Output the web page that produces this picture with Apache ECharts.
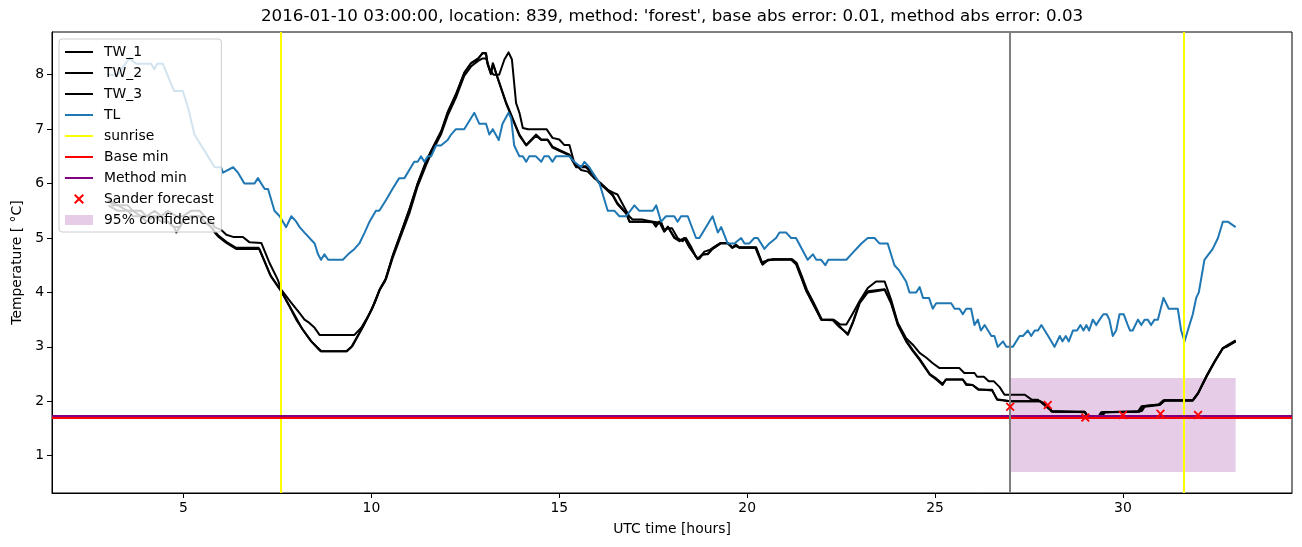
<!DOCTYPE html>
<html><head><meta charset="utf-8">
<script src="https://cdn.jsdelivr.net/npm/echarts@6/dist/echarts.min.js"></script>
<style>html,body{margin:0;padding:0;background:#fff}#c{width:1302px;height:547px}</style>
</head><body><div id="c"></div><script>
// ---- data (hours, °C) ----
const tw1 = [[3.0,5.6],[3.25,5.5],[3.52,5.5],[3.65,5.4],[3.87,5.4],[4.01,5.3],[4.23,5.4],[4.41,5.3],[4.58,5.3],[4.75,5.2],[4.81,5.1],[4.9,5.2],[4.98,5.3],[5.2,5.4],[5.43,5.4],[5.56,5.3],[5.74,5.2],[5.83,5.1],[5.92,5.03],[6.14,4.91],[6.4,4.8],[7.02,4.8],[7.33,4.29],[7.6,4.02],[7.82,3.74],[8.0,3.5],[8.18,3.31],[8.4,3.1],[8.58,2.98],[8.67,2.92],[9.33,2.92],[9.47,3.0],[9.78,3.38],[10.0,3.68],[10.22,4.05],[10.36,4.2],[10.56,4.66],[10.79,5.1],[11.01,5.52],[11.23,6.0],[11.45,6.38],[11.59,6.59],[11.85,6.93],[12.03,7.3],[12.25,7.63],[12.47,8.03],[12.65,8.21],[12.83,8.28],[12.96,8.4],[13.05,8.4],[13.09,8.2],[13.18,8.03],[13.23,8.21],[13.36,7.94],[13.58,7.5],[13.76,7.2],[13.94,6.9],[14.12,6.71],[14.38,6.9],[14.52,6.81],[14.69,6.81],[14.82,6.68],[15.0,6.62],[15.27,6.53],[15.45,6.32],[15.71,6.32],[15.89,6.19],[16.07,6.01],[16.24,5.92],[16.42,5.8],[16.55,5.64],[16.78,5.46],[16.87,5.3],[17.18,5.3],[17.49,5.29],[17.6,5.25],[17.71,5.29],[17.8,5.12],[17.89,5.21],[18.06,5.0],[18.2,4.94],[18.33,5.0],[18.46,4.85],[18.68,4.61],[18.81,4.69],[18.95,4.71],[19.08,4.8],[19.3,4.91],[19.48,4.91],[19.61,4.82],[19.7,4.88],[19.79,4.82],[20.24,4.82],[20.41,4.51],[20.55,4.6],[20.72,4.61],[21.17,4.61],[21.3,4.54],[21.44,4.29],[21.57,4.05],[21.75,3.81],[21.97,3.5],[22.28,3.5],[22.46,3.38],[22.68,3.22],[22.82,3.45],[23.0,3.81],[23.21,4.0],[23.43,4.02],[23.66,4.05],[23.83,3.8],[24.01,3.4],[24.23,3.1],[24.41,2.92],[24.59,2.76],[24.86,2.49],[25.03,2.4],[25.2,2.3],[25.29,2.4],[25.74,2.4],[25.83,2.3],[26.0,2.3],[26.16,2.21],[26.52,2.21],[26.65,2.03],[27.0,2.0],[27.8,2.0],[28.01,1.91],[28.1,1.81],[28.98,1.81],[29.07,1.72],[29.4,1.72],[29.47,1.8],[30.45,1.81],[30.53,1.91],[30.98,1.94],[31.11,2.02],[31.86,2.02],[32.0,2.15],[32.22,2.46],[32.44,2.73],[32.66,2.98],[32.75,3.0],[33.0,3.1]];
const tw2 = [[3.0,5.7],[3.25,5.6],[3.52,5.5],[3.65,5.5],[3.87,5.4],[4.01,5.4],[4.23,5.4],[4.41,5.4],[4.58,5.3],[4.75,5.2],[4.81,5.2],[4.9,5.2],[4.98,5.3],[5.2,5.4],[5.43,5.4],[5.56,5.3],[5.74,5.2],[5.83,5.12],[5.92,5.05],[6.14,4.93],[6.4,4.82],[7.0,4.82],[7.3,4.33],[7.58,4.05],[7.8,3.78],[8.0,3.53],[8.16,3.33],[8.38,3.12],[8.56,2.98],[8.65,2.92],[9.35,2.92],[9.5,3.02],[9.8,3.4],[10.02,3.7],[10.24,4.08],[10.38,4.25],[10.58,4.7],[10.8,5.12],[11.02,5.55],[11.24,6.02],[11.46,6.42],[11.6,6.62],[11.86,6.97],[12.04,7.33],[12.26,7.66],[12.48,8.05],[12.66,8.22],[12.84,8.3],[12.97,8.4],[13.05,8.38],[13.1,8.18],[13.18,8.01],[13.24,8.2],[13.37,7.92],[13.58,7.48],[13.76,7.18],[13.94,6.88],[14.12,6.7],[14.38,6.88],[14.52,6.8],[14.69,6.8],[14.82,6.66],[15.0,6.6],[15.27,6.52],[15.45,6.3],[15.71,6.3],[15.89,6.18],[16.07,6.0],[16.24,5.9],[16.42,5.78],[16.55,5.62],[16.78,5.45],[16.87,5.3],[17.18,5.3],[17.49,5.3],[17.71,5.28],[17.8,5.14],[17.89,5.2],[18.06,5.02],[18.2,4.95],[18.33,5.0],[18.46,4.83],[18.68,4.62],[18.81,4.7],[18.95,4.7],[19.08,4.8],[19.3,4.9],[19.48,4.9],[19.61,4.83],[19.7,4.87],[19.79,4.83],[20.24,4.83],[20.41,4.52],[20.55,4.59],[20.72,4.6],[21.17,4.6],[21.3,4.52],[21.44,4.27],[21.57,4.03],[21.75,3.79],[21.97,3.5],[22.28,3.49],[22.46,3.36],[22.68,3.24],[22.82,3.47],[23.0,3.83],[23.21,4.02],[23.43,4.04],[23.66,4.06],[23.83,3.82],[24.01,3.42],[24.23,3.12],[24.41,2.94],[24.59,2.78],[24.86,2.5],[25.03,2.42],[25.2,2.32],[25.29,2.4],[25.74,2.4],[25.83,2.32],[26.0,2.3],[26.16,2.22],[26.52,2.2],[26.65,2.04],[27.0,2.0],[27.8,2.0],[28.01,1.92],[28.1,1.82],[28.98,1.8],[29.07,1.72],[29.45,1.72],[29.52,1.8],[30.5,1.82],[30.58,1.9],[30.98,1.93],[31.11,2.01],[31.86,2.01],[32.0,2.14],[32.22,2.44],[32.44,2.72],[32.66,2.97],[32.75,3.02],[33.0,3.12]];
const tw3 = [[3.0,5.7],[3.12,5.6],[3.52,5.6],[3.65,5.5],[3.87,5.5],[4.01,5.4],[4.23,5.5],[4.41,5.4],[4.58,5.5],[4.81,5.4],[4.98,5.4],[5.2,5.5],[5.43,5.5],[5.56,5.4],[5.74,5.3],[5.83,5.2],[6.0,5.15],[6.14,5.06],[6.32,5.02],[6.58,5.02],[6.76,4.92],[7.07,4.91],[7.29,4.54],[7.51,4.23],[7.6,4.05],[7.87,3.81],[8.09,3.62],[8.22,3.5],[8.35,3.44],[8.49,3.35],[8.62,3.22],[9.55,3.22],[9.73,3.35],[9.91,3.56],[10.09,3.81],[10.22,4.05],[10.39,4.25],[10.56,4.62],[10.79,5.05],[11.01,5.45],[11.23,5.95],[11.45,6.33],[11.59,6.55],[11.85,6.9],[12.03,7.25],[12.25,7.58],[12.47,7.98],[12.65,8.15],[12.83,8.25],[12.96,8.3],[13.05,8.3],[13.15,8.1],[13.25,8.0],[13.4,8.0],[13.54,8.28],[13.65,8.41],[13.74,8.28],[13.85,7.48],[13.94,7.3],[14.03,7.02],[14.17,7.0],[14.66,7.0],[14.82,6.84],[15.0,6.81],[15.13,6.71],[15.27,6.71],[15.4,6.38],[15.58,6.25],[15.76,6.22],[15.93,6.1],[16.1,6.01],[16.28,5.89],[16.45,5.83],[16.55,5.8],[16.72,5.58],[16.86,5.4],[16.95,5.34],[17.2,5.34],[17.48,5.3],[17.57,5.21],[17.66,5.3],[17.79,5.12],[17.88,5.18],[18.0,5.18],[18.15,5.0],[18.28,4.94],[18.37,5.0],[18.5,4.85],[18.64,4.65],[18.73,4.62],[18.86,4.75],[19.0,4.78],[19.15,4.85],[19.3,4.91],[19.48,4.91],[19.6,4.82],[19.7,4.85],[19.8,4.82],[20.22,4.82],[20.38,4.55],[20.5,4.58],[20.7,4.61],[21.2,4.61],[21.32,4.54],[21.46,4.29],[21.59,4.05],[21.77,3.81],[21.99,3.5],[22.3,3.5],[22.48,3.41],[22.64,3.41],[22.8,3.6],[23.0,3.85],[23.21,4.08],[23.43,4.2],[23.66,4.2],[23.83,3.87],[24.01,3.44],[24.23,3.16],[24.41,3.04],[24.59,2.89],[24.77,2.8],[24.94,2.7],[25.12,2.61],[25.65,2.61],[25.78,2.52],[26.05,2.52],[26.12,2.45],[26.3,2.45],[26.43,2.37],[26.56,2.37],[26.72,2.26],[26.85,2.12],[27.39,2.12],[27.57,2.03],[27.74,2.03],[28.05,1.85],[28.14,1.81],[28.98,1.81],[29.07,1.72],[29.35,1.72],[29.42,1.8],[30.4,1.81],[30.5,1.91],[30.95,1.94],[31.08,2.02],[31.86,2.02],[32.0,2.15],[32.22,2.46],[32.44,2.73],[32.66,2.98],[32.75,3.0],[33.0,3.1]];
const tl = [[3.0,8.0],[3.25,8.0],[3.45,8.2],[3.56,8.3],[3.74,8.2],[4.14,8.2],[4.22,8.1],[4.3,8.2],[4.45,8.2],[4.75,7.7],[4.98,7.7],[5.12,7.4],[5.29,6.9],[5.38,6.8],[5.65,6.5],[5.83,6.3],[6.0,6.3],[6.05,6.2],[6.32,6.3],[6.45,6.2],[6.62,6.0],[6.89,6.0],[6.98,6.1],[7.16,5.9],[7.25,5.9],[7.42,5.5],[7.56,5.4],[7.73,5.2],[7.87,5.4],[8.0,5.3],[8.09,5.2],[8.22,5.1],[8.49,4.9],[8.58,4.7],[8.66,4.6],[8.75,4.7],[8.85,4.6],[9.24,4.6],[9.38,4.7],[9.55,4.8],[9.68,4.9],[9.82,5.1],[9.95,5.3],[10.12,5.5],[10.21,5.5],[10.39,5.7],[10.56,5.9],[10.74,6.1],[10.88,6.1],[11.14,6.4],[11.23,6.4],[11.32,6.5],[11.41,6.4],[11.5,6.5],[11.59,6.5],[11.72,6.7],[11.85,6.7],[12.03,6.8],[12.12,6.9],[12.25,7.0],[12.47,7.0],[12.74,7.3],[12.87,7.1],[13.05,7.1],[13.14,6.9],[13.23,7.0],[13.39,6.8],[13.49,7.1],[13.65,7.3],[13.72,7.2],[13.8,6.7],[13.94,6.5],[14.03,6.5],[14.12,6.4],[14.2,6.5],[14.38,6.5],[14.52,6.4],[14.6,6.5],[14.72,6.5],[14.82,6.4],[14.91,6.5],[15.27,6.5],[15.4,6.4],[15.58,6.3],[15.67,6.4],[15.8,6.3],[15.89,6.2],[16.07,6.0],[16.29,5.5],[16.47,5.5],[16.6,5.4],[16.78,5.4],[17.0,5.6],[17.13,5.5],[17.49,5.5],[17.58,5.6],[17.71,5.3],[17.84,5.4],[18.06,5.4],[18.15,5.3],[18.24,5.4],[18.42,5.4],[18.64,5.0],[18.73,5.0],[19.08,5.4],[19.22,5.1],[19.31,5.2],[19.48,4.9],[19.66,4.9],[19.84,5.0],[19.93,4.9],[20.06,4.9],[20.19,5.0],[20.28,5.0],[20.46,4.8],[20.59,4.9],[20.77,5.0],[20.86,5.1],[21.04,5.1],[21.17,5.0],[21.3,5.0],[21.61,4.6],[21.75,4.7],[21.84,4.6],[21.97,4.6],[22.08,4.5],[22.16,4.6],[22.64,4.6],[22.77,4.7],[23.04,4.9],[23.21,5.0],[23.39,5.0],[23.52,4.9],[23.74,4.9],[23.92,4.5],[24.05,4.4],[24.23,4.2],[24.32,4.0],[24.5,4.0],[24.59,4.1],[24.68,3.9],[24.84,3.9],[24.94,3.7],[25.03,3.8],[25.43,3.8],[25.52,3.7],[25.65,3.7],[25.74,3.6],[25.83,3.7],[25.96,3.7],[26.05,3.4],[26.14,3.5],[26.22,3.3],[26.32,3.4],[26.5,3.2],[26.58,3.2],[26.67,3.0],[26.81,3.1],[26.9,3.0],[27.07,3.0],[27.25,3.2],[27.34,3.2],[27.47,3.3],[27.56,3.2],[27.65,3.3],[27.74,3.3],[27.83,3.4],[28.01,3.2],[28.18,3.0],[28.23,3.0],[28.32,3.2],[28.39,3.1],[28.48,3.2],[28.56,3.1],[28.67,3.3],[28.78,3.3],[28.87,3.4],[28.95,3.3],[29.03,3.4],[29.1,3.3],[29.2,3.5],[29.29,3.4],[29.38,3.5],[29.48,3.6],[29.57,3.6],[29.64,3.5],[29.73,3.2],[29.82,3.3],[29.91,3.6],[30.02,3.6],[30.13,3.4],[30.19,3.3],[30.26,3.3],[30.4,3.5],[30.49,3.4],[30.58,3.5],[30.66,3.5],[30.75,3.4],[30.84,3.5],[30.93,3.5],[31.08,3.9],[31.22,3.7],[31.46,3.7],[31.55,3.3],[31.64,3.1],[31.77,3.4],[31.86,3.6],[31.95,3.9],[32.02,4.0],[32.17,4.6],[32.39,4.8],[32.53,5.0],[32.66,5.3],[32.79,5.3],[33.0,5.2]];
const sunriseHours = [7.6, 31.62];
const forecastTime = [27.0];
const baseMin = 1.70;
const methodMin = 1.74;
const sanderHours = [27, 28, 29, 30, 31, 32];
const sanderVals = [1.90, 1.93, 1.70, 1.75, 1.77, 1.75];
const confHours = [27, 33];
const confBounds = [0.7, 2.43];
const xTicks = [5, 10, 15, 20, 25, 30];
const yTicks = [1, 2, 3, 4, 5, 6, 7, 8];
const xRange = [1.5, 34.5];
const yRange = [0.315, 8.785];
const titleText = "2016-01-10 03:00:00, location: 839, method: 'forest', base abs error: 0.01, method abs error: 0.03";

// ---- chart ----
const font = 'DejaVu Sans';
const xPath = 'path://M1.4,0L5,3.6L8.6,0L10,1.4L6.4,5L10,8.6L8.6,10L5,6.4L1.4,10L0,8.6L3.6,5L0,1.4Z';
const lineIcon = 'path://M0,0H28V2H0Z';
const confColor = 'rgba(128,0,128,0.2)';
function lineSer(name, data, color, z) {
  return {name, type: 'line', data, symbol: 'none', showSymbol: false, silent: true, z,
    lineStyle: {color, width: 2, join: 'round'}, itemStyle: {color}, emphasis: {disabled: true}};
}
function refSer(name, color, items, z) {
  return {name, type: 'line', data: [], symbol: 'none', silent: true, z,
    lineStyle: {color, width: 2}, itemStyle: {color},
    markLine: {silent: true, symbol: ['none', 'none'], label: {show: false}, emphasis: {disabled: true},
      lineStyle: {color, width: 2, type: 'solid'}, data: items}};
}
const chart = echarts.init(document.getElementById('c'), null, {renderer: 'canvas'});
chart.setOption({
  animation: false,
  backgroundColor: '#fff',
  title: {text: titleText, left: 261, top: 8, padding: 0,
    textStyle: {fontFamily: font, fontSize: 16.7, fontWeight: 'normal', color: '#000'}},
  grid: {left: 52, right: 10, top: 32, bottom: 54, show: true, borderColor: '#000', borderWidth: 1},
  xAxis: {type: 'value', min: xRange[0], max: xRange[1], splitLine: {show: false},
    axisLine: {show: true, onZero: false, lineStyle: {color: '#000', width: 1}},
    axisTick: {show: true, length: 5, lineStyle: {color: '#000'}, customValues: xTicks},
    axisLabel: {customValues: xTicks, color: '#000', fontFamily: font, fontSize: 13.9, margin: 8},
    name: 'UTC time [hours]', nameLocation: 'middle', nameGap: 29,
    nameTextStyle: {fontFamily: font, fontSize: 13.9, color: '#000'}},
  yAxis: {type: 'value', min: yRange[0], max: yRange[1], splitLine: {show: false},
    axisLine: {show: true, onZero: false, lineStyle: {color: '#000', width: 1}},
    axisTick: {show: true, length: 5, lineStyle: {color: '#000'}, customValues: yTicks},
    axisLabel: {customValues: yTicks, color: '#000', fontFamily: font, fontSize: 13.9, margin: 8},
    name: 'Temperature [ °C]', nameLocation: 'middle', nameGap: 28,
    nameTextStyle: {fontFamily: font, fontSize: 13.9, color: '#000'}},
  legend: {orient: 'vertical', left: 59, top: 39, itemWidth: 28, itemHeight: 10, itemGap: 7,
    padding: [6, 6, 5, 6], backgroundColor: 'rgba(255,255,255,0.8)', borderColor: '#cccccc',
    borderWidth: 1, borderRadius: 3, selectedMode: false, z: 10,
    textStyle: {fontFamily: font, fontSize: 13.9, color: '#000', lineHeight: 14, padding: [0, 0, 0, 6]},
    data: [{name: 'TW_1', icon: lineIcon}, {name: 'TW_2', icon: lineIcon}, {name: 'TW_3', icon: lineIcon},
      {name: 'TL', icon: lineIcon}, {name: 'sunrise', icon: lineIcon},
      {name: 'Base min', icon: lineIcon}, {name: 'Method min', icon: lineIcon},
      {name: 'Sander forecast', icon: xPath}, {name: '95% confidence', icon: 'rect'}]},
  series: [
    {name: '95% confidence', type: 'custom', silent: true, z: 1,
      data: [[confHours[0], confHours[1], confBounds[0], confBounds[1]]],
      encode: {x: [0, 1], y: [2, 3]}, itemStyle: {color: confColor},
      renderItem: function (params, api) {
        const p1 = api.coord([api.value(0), api.value(3)]);
        const p2 = api.coord([api.value(1), api.value(2)]);
        return {type: 'rect', shape: {x: p1[0], y: p1[1], width: p2[0] - p1[0], height: p2[1] - p1[1]},
          style: {fill: confColor}};
      }},
    lineSer('TW_1', tw1, '#000000', 3),
    lineSer('TW_2', tw2, '#000000', 3),
    lineSer('TW_3', tw3, '#000000', 3),
    lineSer('TL', tl, '#1f77b4', 4),
    refSer('sunrise', '#ffff00', sunriseHours.map(h => ({xAxis: h})), 5),
    refSer('Base min', '#ff0000', [{yAxis: baseMin}], 5),
    refSer('Method min', '#800080', [{yAxis: methodMin}], 5),
    refSer('forecast time', '#808080', forecastTime.map(h => ({xAxis: h})), 5),
    {name: 'Sander forecast', type: 'scatter', silent: true, z: 6, symbol: xPath, symbolSize: 9,
      itemStyle: {color: '#ff0000', opacity: 1}, data: sanderHours.map((h, i) => [h, sanderVals[i]])}
  ]
});
</script></body></html>
